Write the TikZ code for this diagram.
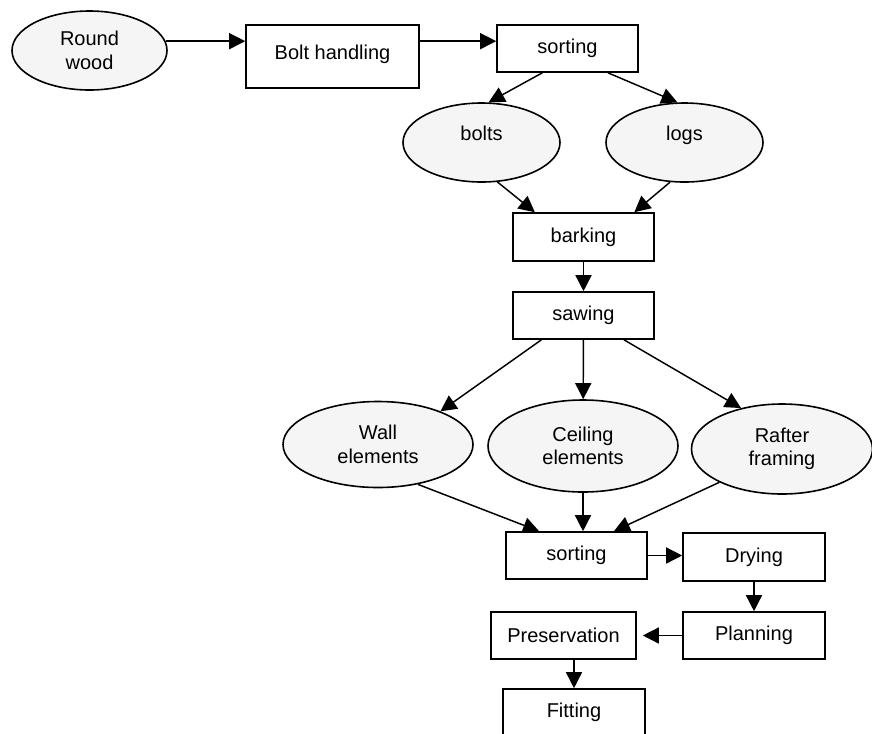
\documentclass[tikz,border=0pt]{standalone}
\usepackage{fontspec}
\setmainfont{Liberation Sans}
\usetikzlibrary{arrows.meta,shapes.geometric}

\begin{document}
\begin{tikzpicture}[x=0.75pt,y=-0.75pt,
  every node/.style={font=\fontsize{15pt}{17.5pt}\selectfont,align=center},
  box/.style={draw,line width=1.2pt,fill=white,inner sep=0pt,minimum width=105.75pt,minimum height=35.25pt},
  oval/.style={ellipse,draw,line width=1.2pt,fill=gray!8,inner sep=0pt},
  arr/.style={line width=1.1pt,-{Triangle[length=12pt,width=12pt]}}]
\useasboundingbox (0,0) rectangle (872,733);
\clip (0,0) rectangle (872,733);
\node[oval,minimum width=116.25pt,minimum height=59.25pt] (wood) at (89.5,50.5) {Round\\wood};
\node[box,minimum width=129.75pt,minimum height=47.25pt,text depth=7pt] (bolt) at (332.5,56.5) {Bolt handling};
\node[box] (sort1) at (567.5,48.5) {sorting};
\node[oval,minimum width=117.75pt,minimum height=59.25pt,text depth=14.4pt] (bolts) at (481.5,142.5) {bolts};
\node[oval,minimum width=117.75pt,minimum height=59.25pt,text depth=14.4pt] (logs) at (684.5,142.5) {logs};
\node[box,minimum height=36pt] (bark) at (583.5,237) {barking};
\node[box] (saw) at (583.5,315.5) {sawing};
\node[oval,minimum width=142.5pt,minimum height=64.5pt] (wall) at (378,444.5) {Wall\\elements};
\node[oval,minimum width=142.5pt,minimum height=69pt] (ceil) at (583,446) {Ceiling\\elements};
\node[oval,minimum width=135.75pt,minimum height=67.5pt] (rafter) at (782,449) {Rafter\\framing};
\node[box] (sort2) at (576.5,555.5) {sorting};
\node[box,minimum width=106.5pt,minimum height=36pt] (dry) at (754,557) {Drying};
\node[box,minimum width=106.5pt] (plan) at (754,635.5) {Planning};
\node[box,minimum width=108.75pt] (pres) at (563.5,635.5) {Preservation};
\node[box,minimum width=106.5pt] (fit) at (574,712.5) {Fitting};

\draw[arr] (wood.7) -- (wood.7 -| bolt.west);
\draw[arr] (wood.7 -| bolt.east) -- (wood.7 -| sort1.west);
\draw[arr] (sort1.-136) -- (bolts.80);
\draw[arr] (sort1.-31) -- (logs.100);
\draw[arr] (bolts.-68) -- (bark.153);
\draw[arr] (logs.-110) -- (bark.26);
\draw[arr] (bark) -- (saw);
\draw[arr] (saw.-150) -- (wall.28);
\draw[arr] (saw) -- (ceil);
\draw[arr] (saw.-31) -- (rafter.135);
\draw[arr] (wall.-45) -- (sort2.147);
\draw[arr] (ceil.south) -- (ceil.south |- sort2.north);
\draw[arr] (rafter.-152) -- (sort2.33);
\draw[arr] (sort2.east) -- (sort2.east -| dry.west);
\draw[arr] (dry) -- (plan);
\draw[arr,shorten >=4.5pt] (plan.west) -- (plan.west -| pres.east);
\draw[arr] (fit.north |- pres.south) -- (fit.north);
\end{tikzpicture}
\end{document}
